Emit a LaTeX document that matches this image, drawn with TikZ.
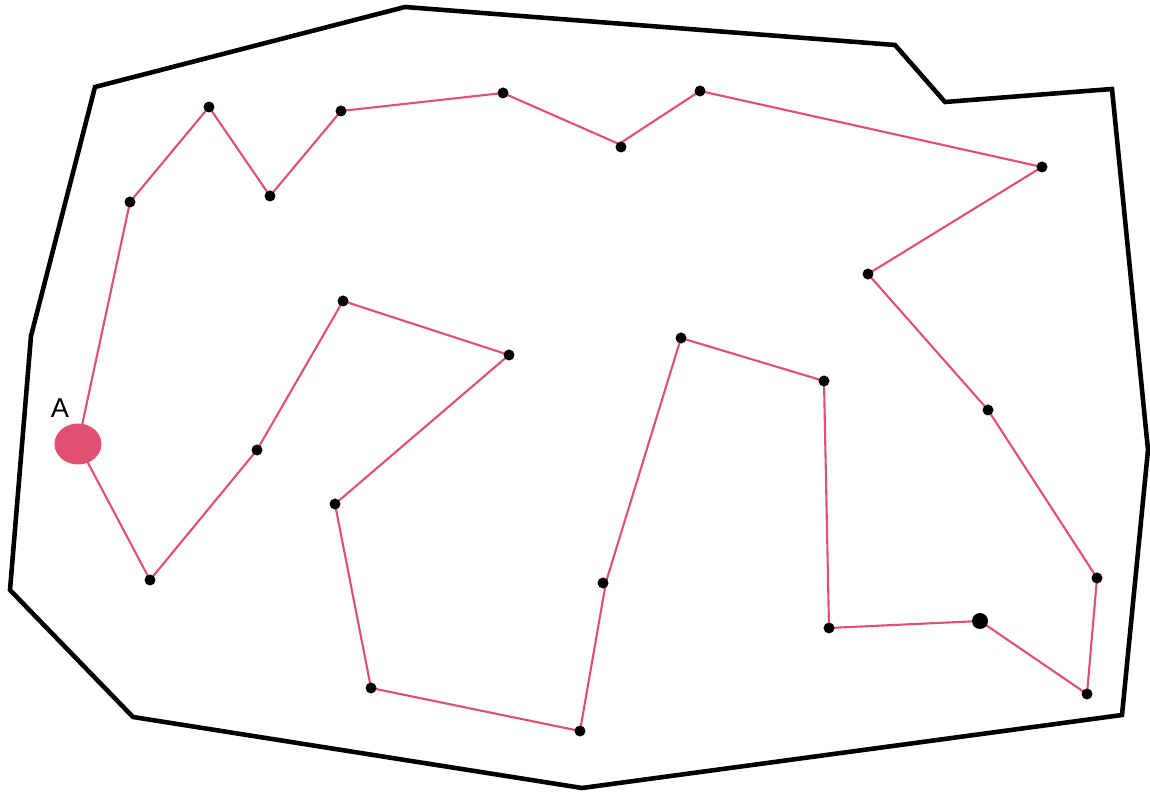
\documentclass[tikz,border=0pt]{standalone}
\usepackage{fontspec}
\setmainfont{Liberation Sans}
\usetikzlibrary{shapes.geometric}
\definecolor{tour}{RGB}{224,80,112}
\begin{document}
\begin{tikzpicture}[x=0.02cm,y=-0.02cm,
  dot/.style={circle,fill=black,inner sep=0pt,minimum size=0.22cm},
  bigdot/.style={circle,fill=black,inner sep=0pt,minimum size=0.32cm},
  edge/.style={draw=tour,line width=1.2pt},
  hull/.style={draw=black,line width=2.6pt,line join=miter}]
\useasboundingbox (0,0) rectangle (1150,793);
% boundary
\draw[hull] (95,87) -- (405,7) -- (895,45) -- (945,102) -- (1112,89) -- (1148,450)
  -- (1122,715) -- (582,788) -- (133,717) -- (10,590) -- (31,336) -- cycle;
% tour vertices
\coordinate (A) at (78,444);
\coordinate (p1) at (130,202);
\coordinate (p2) at (209,107);
\coordinate (p3) at (270,196);
\coordinate (p4) at (341,111);
\coordinate (p5) at (503,93);
\coordinate (p6) at (619,144);
\coordinate (p7) at (700,91);
\coordinate (p8) at (1042,167);
\coordinate (p9) at (868,274);
\coordinate (p10) at (988,410);
\coordinate (p11) at (1097,578);
\coordinate (p12) at (1087,694);
\coordinate (p13) at (980,621);
\coordinate (p14) at (829,628);
\coordinate (p15) at (824,381);
\coordinate (p16) at (681,338);
\coordinate (p17) at (606,582);
\coordinate (p18) at (580,731);
\coordinate (p19) at (371,688);
\coordinate (p20) at (335,504);
\coordinate (p21) at (509,355);
\coordinate (p22) at (343,301);
\coordinate (p23) at (257,450);
\coordinate (p24) at (150,580);
% tour
\draw[edge] (A) -- (p1) -- (p2) -- (p3) -- (p4) -- (p5) -- (p6) -- (p7) -- (p8)
  -- (p9) -- (p10) -- (p11) -- (p12) -- (p13) -- (p14) -- (p15) -- (p16) -- (p17)
  -- (p18) -- (p19) -- (p20) -- (p21) -- (p22) -- (p23) -- (p24) -- cycle;
% dots
\foreach \p in {p1,p2,p3,p4,p5,p7,p8,p9,p10,p11,p12,p14,p15,p16,p18,p19,p20,p21,p22,p23,p24}
  \node[dot] (d\p) at (\p) {};
\node[dot] (dp6) at (621,147) {};
\node[dot] (dp17) at (603,583) {};
\node[bigdot] (dp13) at (p13) {};
% start node
\node[ellipse,fill=tour,minimum width=0.94cm,minimum height=0.82cm,inner sep=0pt] (nA) at (A) {};
\node[font=\fontsize{15.5}{18}\selectfont] (lA) at (60,408) {A};
\end{tikzpicture}
\end{document}
